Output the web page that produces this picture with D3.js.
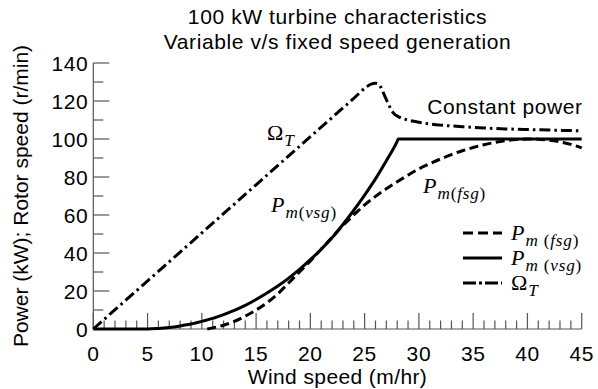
<!DOCTYPE html>
<html>
<head>
<meta charset="utf-8">
<script src="https://cdn.jsdelivr.net/npm/d3@7"></script>
<style>
  body { margin: 0; background: #fff; }
  svg { display: block; }
</style>
</head>
<body>
<svg id="chart"></svg>
<script>
// Valores
const titleLines = ['100 kW turbine characteristics', 'Variable v/s fixed speed generation'];
const xTicks = [0, 5, 10, 15, 20, 25, 30, 35, 40, 45];
const yTicks = [0, 20, 40, 60, 80, 100, 120, 140];

// P_m(fsg) - tracejado
const fsgWind = [10.5, 11, 12, 13, 14, 15, 16, 17, 18, 19, 20, 21, 22, 23, 24, 25, 26, 27, 28, 29, 30, 31, 32, 33, 34, 35, 36, 37, 38, 39, 40, 41, 42, 43, 44, 45];
const fsgPower = [0, 0.6, 2, 4, 6.8, 10, 13.8, 18.5, 24.3, 30, 35.8, 42, 48.3, 54.5, 60, 65.3, 69.8, 73.8, 77.5, 81, 84.3, 87, 89.5, 91.8, 93.8, 95.5, 97, 98.2, 99.1, 99.7, 100, 99.9, 99.4, 98.5, 97.2, 95.3];

// P_m(vsg) - contínuo
const vsgWind = [0, 5, 6, 7, 8, 9, 10, 11, 12, 13, 14, 15, 16, 17, 18, 19, 20, 21, 22, 23, 24, 25, 26, 27, 28, 28.1, 30, 35, 40, 45];
const vsgPower = [0, 0, 0.3, 0.8, 1.6, 2.6, 4, 5.6, 7.6, 9.8, 12.4, 15.5, 18.9, 22.6, 26.8, 31.4, 36.5, 42, 48, 55, 62.5, 70.5, 79, 88.5, 98.8, 100, 100, 100, 100, 100];

// Omega_T - traço-ponto
const omegaWind = [0, 5, 10, 15, 20, 24, 25.2, 25.6, 26, 26.3, 26.6, 26.9, 27.2, 27.6, 28.2, 29, 30, 32, 34, 36, 38, 40, 42, 45];
const omegaSpeed = [0, 25.3, 50.6, 75.9, 101.2, 121.4, 127.5, 128.9, 129.3, 128.8, 126, 122, 118.3, 114, 111.5, 110, 108.8, 107.3, 106.5, 105.8, 105.3, 105, 104.7, 104.3];

const width = 598, height = 389;
const plotLeft = 93.3, plotRight = 581.7, plotTop = 63, plotBottom = 329;
const sans = 'Liberation Sans, Arial, Helvetica, sans-serif';
const serif = 'Liberation Serif, Times New Roman, serif';
const axisGrey = '#555';
const fontSize = '21px';
const spacing = '0.6px';

const svg = d3.select('#chart').attr('width', width).attr('height', height);

const x = d3.scaleLinear().domain([0, 45]).range([plotLeft, plotRight]);
const y = d3.scaleLinear().domain([0, 140]).range([plotBottom, plotTop]);

// Título
svg.append('g').selectAll('text')
  .data(titleLines)
  .enter().append('text')
  .attr('x', (plotLeft + plotRight) / 2)
  .attr('y', (d, i) => 24 + i * 25)
  .attr('text-anchor', 'middle')
  .style('font-family', sans)
  .style('font-size', fontSize)
  .style('letter-spacing', spacing)
  .text(d => d);

// Eixo Y: linha com ticks para dentro
const yAxis = svg.append('g');
yAxis.append('line')
  .attr('x1', x(0)).attr('x2', x(0))
  .attr('y1', y(0)).attr('y2', y(140))
  .attr('stroke', axisGrey).attr('stroke-width', 1.2);
yAxis.selectAll('line.tick')
  .data(d3.range(0, 141, 10))
  .enter().append('line')
  .attr('class', 'tick')
  .attr('x1', x(0))
  .attr('x2', d => x(0) + (d % 20 === 0 ? 16 : 10))
  .attr('y1', d => y(d)).attr('y2', d => y(d))
  .attr('stroke', axisGrey).attr('stroke-width', 1.2);
yAxis.selectAll('text')
  .data(yTicks)
  .enter().append('text')
  .attr('x', x(0) - 5)
  .attr('y', d => y(d))
  .attr('dy', '0.36em')
  .attr('text-anchor', 'end')
  .style('font-family', sans)
  .style('font-size', fontSize)
  .style('letter-spacing', spacing)
  .text(d => d);

// Eixo X: linha com ticks para cima
const xAxis = svg.append('g');
xAxis.append('line')
  .attr('x1', x(0)).attr('x2', x(45))
  .attr('y1', y(0)).attr('y2', y(0))
  .attr('stroke', axisGrey).attr('stroke-width', 1.2);
xAxis.selectAll('line.tick')
  .data(d3.range(0, 46, 1))
  .enter().append('line')
  .attr('class', 'tick')
  .attr('x1', d => x(d)).attr('x2', d => x(d))
  .attr('y1', y(0))
  .attr('y2', d => y(0) - (d % 5 === 0 ? 16 : 8.5))
  .attr('stroke', axisGrey).attr('stroke-width', 1.2);
xAxis.selectAll('text')
  .data(xTicks)
  .enter().append('text')
  .attr('x', d => x(d))
  .attr('y', 361)
  .attr('text-anchor', 'middle')
  .style('font-family', sans)
  .style('font-size', fontSize)
  .style('letter-spacing', spacing)
  .text(d => d);

// Rótulos dos eixos
svg.append('text')
  .attr('x', (plotLeft + plotRight) / 2)
  .attr('y', 384)
  .attr('text-anchor', 'middle')
  .style('font-family', sans)
  .style('font-size', fontSize)
  .style('letter-spacing', '0.4px')
  .text('Wind speed (m/hr)');

svg.append('text')
  .attr('transform', `translate(28, ${(plotTop + plotBottom) / 2}) rotate(-90)`)
  .attr('text-anchor', 'middle')
  .style('font-family', sans)
  .style('font-size', fontSize)
  .text('Power (kW); Rotor speed (r/min)');

// Curvas
const line = d3.line()
  .x(d => x(d[0]))
  .y(d => y(d[1]))
  .curve(d3.curveMonotoneX);

const series = [
  { xs: fsgWind, ys: fsgPower, dash: '9,4.5' },
  { xs: vsgWind, ys: vsgPower, dash: null },
  { xs: omegaWind, ys: omegaSpeed, dash: '11,4,2.5,4' }
];

series.forEach(s => {
  svg.append('path')
    .datum(d3.zip(s.xs, s.ys))
    .attr('fill', 'none')
    .attr('stroke', '#000')
    .attr('stroke-width', 3)
    .attr('stroke-dasharray', s.dash)
    .attr('d', line);
});

// Rótulos matemáticos
function mathLabel(g, px, py, big, sub, size) {
  const t = g.append('text')
    .attr('x', px).attr('y', py)
    .style('font-family', serif)
    .style('font-size', size + 'px');
  t.append('tspan')
    .style('font-style', big === 'P' ? 'italic' : 'normal')
    .text(big);
  const s = t.append('tspan')
    .attr('dy', size * 0.28)
    .attr('dx', 1)
    .style('font-size', (size * 0.78) + 'px')
    .style('letter-spacing', '0.8px');
  sub.forEach(([txt, it]) => {
    s.append('tspan').style('font-style', it ? 'italic' : 'normal').text(txt);
  });
  return t;
}

const labels = svg.append('g');
mathLabel(labels, 267, 140, 'Ω', [['T', true]], 22);
mathLabel(labels, 271, 212, 'P', [['m', true], ['(', false], ['vsg', true], [')', false]], 22);
mathLabel(labels, 423, 193, 'P', [['m', true], ['(', false], ['fsg', true], [')', false]], 22);

svg.append('text')
  .attr('x', plotRight + 1)
  .attr('y', 114)
  .attr('text-anchor', 'end')
  .style('font-family', sans)
  .style('font-size', fontSize)
  .style('letter-spacing', spacing)
  .text('Constant power');

// Legenda
const legend = svg.append('g');
const legendRows = [
  { dash: '10,5', big: 'P', sub: [['m', true], [' (', false], ['fsg', true], [')', false]] },
  { dash: null, big: 'P', sub: [['m', true], [' (', false], ['vsg', true], [')', false]] },
  { dash: '13,3,3,3', big: 'Ω', sub: [['T', true]] }
];
legendRows.forEach((r, i) => {
  const ly = 233 + i * 25;
  legend.append('line')
    .attr('x1', 463).attr('x2', 502)
    .attr('y1', ly).attr('y2', ly)
    .attr('stroke', '#000')
    .attr('stroke-width', 3)
    .attr('stroke-dasharray', r.dash);
  mathLabel(legend, 511, ly + 7, r.big, r.sub, 22);
});
</script>
</body>
</html>
